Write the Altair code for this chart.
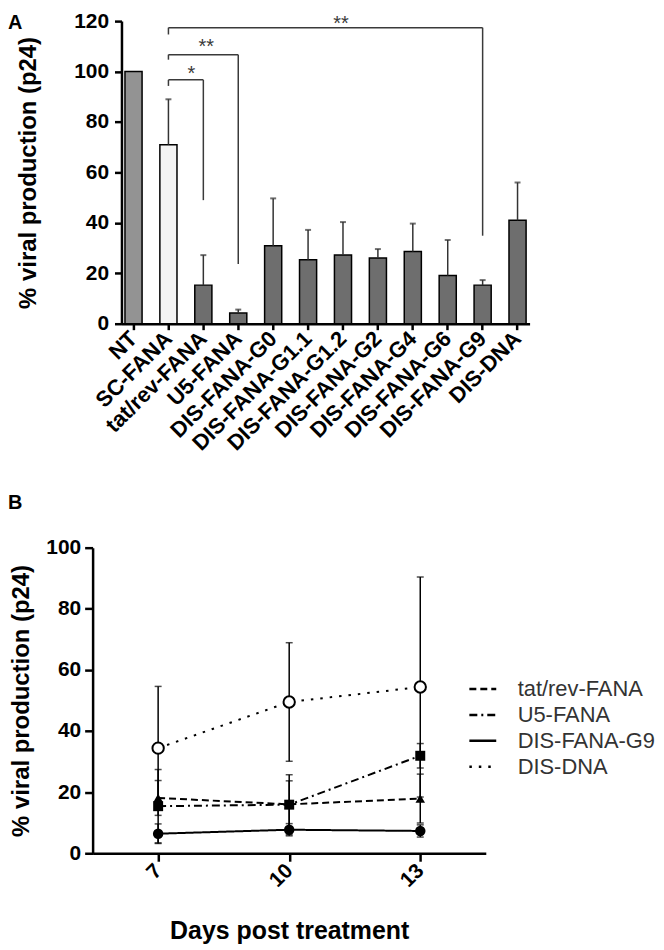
import altair as alt
import pandas as pd

# ---------------- Panel A data ----------------
categories = ["NT", "SC-FANA", "tat/rev-FANA", "U5-FANA", "DIS-FANA-G0", "DIS-FANA-G1.1",
              "DIS-FANA-G1.2", "DIS-FANA-G2", "DIS-FANA-G4", "DIS-FANA-G6", "DIS-FANA-G9", "DIS-DNA"]
means = [100, 71, 15.3, 4.2, 30.9, 25.4, 27.2, 26.1, 28.6, 19.1, 15.3, 41.0]
errors = [0, 18, 11.9, 1.4, 18.8, 11.8, 13.1, 3.5, 11.1, 14.1, 2.0, 15.0]

bracket_from = ["SC-FANA", "SC-FANA", "SC-FANA"]
bracket_to = ["tat/rev-FANA", "U5-FANA", "DIS-FANA-G9"]
bracket_level = [96.7, 106.7, 117.4]
bracket_left_end = [94.3, 104.7, 114.7]
bracket_right_end = [49.0, 23.7, 34.9]
bracket_label = ["*", "**", "**"]
star_cat = ["tat/rev-FANA", "tat/rev-FANA", "DIS-FANA-G1.2"]
star_level = [100.9, 111.8, 121.0]

# ---------------- Panel B data ----------------
days = [7, 10, 13]
series_names = ["tat/rev-FANA", "U5-FANA", "DIS-FANA-G9", "DIS-DNA"]
tat_mean = [18.1, 16.0, 17.9]
tat_err = [5.7, 7.7, 8.0]
u5_mean = [15.4, 15.9, 31.9]
u5_err = [12.0, 9.8, 4.0]
g9_mean = [6.4, 7.7, 7.3]
g9_err = [3.2, 2.0, 2.0]
dna_mean = [34.4, 49.5, 54.4]
dna_err = [20.2, 19.4, 36.0]

FONT = "Liberation Sans"

# ---------------- Panel A ----------------
dfA = pd.DataFrame({"cat": categories, "mean": means, "err": errors})
dfA["top"] = dfA["mean"] + dfA["err"]
dfErr = dfA[dfA["err"] > 0]

SHIFT = 29  # panel A axis sits further right than panel B's
band = alt.Scale(domain=categories, range=[SHIFT, SHIFT + 410], paddingInner=0.51, paddingOuter=0.1)


def xcat(field, axis=None):
    if axis is None:
        return alt.X(field, scale=band)
    return alt.X(field, scale=band, axis=axis)


xA = xcat("cat:N", alt.Axis(title=None, labelAngle=315, labelAlign="right", labelBaseline="middle",
                            labelFontSize=22, labelPadding=5, tickSize=6))
yA = alt.Y("mean:Q", scale=alt.Scale(domain=[0, 120], nice=False),
           axis=alt.Axis(values=[0, 20, 40, 60, 80, 100, 120], title="% viral production (p24)",
                         labelFontSize=21, labelPadding=6, tickSize=7, titlePadding=33,
                         offset=-SHIFT))

bars = alt.Chart(dfA).mark_bar(stroke="black", strokeWidth=1.5).encode(
    x=xA, y=yA,
    fill=alt.Fill("cat:N", legend=None,
                  scale=alt.Scale(domain=categories,
                                  range=["#939393", "#f4f4f4"] + ["#6e6e6e"] * 10)),
)
err_rule = alt.Chart(dfErr).mark_rule(color="#333333", strokeWidth=1.5).encode(
    x=xcat("cat:N"), y="mean:Q", y2="top:Q")
err_cap = alt.Chart(dfErr).mark_tick(color="#333333", thickness=2, size=6).encode(
    x=xcat("cat:N"), y="top:Q")

dfBr = pd.DataFrame({"from": bracket_from, "to": bracket_to, "level": bracket_level,
                     "left_end": bracket_left_end, "right_end": bracket_right_end})
br_h = alt.Chart(dfBr).mark_rule(color="#3a3a3a", strokeWidth=1.5).encode(
    x=xcat("from:N"), x2="to:N", y="level:Q")
br_l = alt.Chart(dfBr).mark_rule(color="#3a3a3a", strokeWidth=1.5).encode(
    x=xcat("from:N"), y="level:Q", y2="left_end:Q")
br_r = alt.Chart(dfBr).mark_rule(color="#3a3a3a", strokeWidth=1.5).encode(
    x=xcat("to:N"), y="level:Q", y2="right_end:Q")

star_dx = [-12, 3, -2]
star_layers = []
for i in range(len(bracket_label)):
    d = pd.DataFrame({"cat": [star_cat[i]], "lvl": [star_level[i]], "lab": [bracket_label[i]]})
    star_layers.append(
        alt.Chart(d).mark_text(font=FONT, fontSize=20, color="#3a3a3a", baseline="middle",
                               dx=star_dx[i], dy=5).encode(
            x=xcat("cat:N"), y="lvl:Q", text="lab:N"))

labA = alt.Chart(pd.DataFrame({"p": ["A"]})).mark_text(
    font=FONT, fontSize=20, fontWeight="bold", align="left", baseline="top", color="black").encode(
    x=alt.value(-85), y=alt.value(-8), text="p:N")

panelA = alt.layer(bars, err_rule, err_cap, br_h, br_l, br_r, *star_layers, labA).properties(
    width=SHIFT + 410, height=304)

# ---------------- Panel B ----------------
rows = []
for name, m, e in [("tat/rev-FANA", tat_mean, tat_err), ("U5-FANA", u5_mean, u5_err),
                   ("DIS-FANA-G9", g9_mean, g9_err), ("DIS-DNA", dna_mean, dna_err)]:
    for d, mv, ev in zip(days, m, e):
        rows.append({"series": name, "day": d, "mean": mv, "low": mv - ev, "high": mv + ev})
dfB = pd.DataFrame(rows)

xB = alt.X("day:Q", scale=alt.Scale(domain=[5.5, 14.5], nice=False, zero=False),
           axis=alt.Axis(values=days, title="Days post treatment", labelAngle=315,
                         labelAlign="right", labelBaseline="middle", labelFontSize=21,
                         labelPadding=6, tickSize=8, titlePadding=28, titleFontSize=25))
yB = alt.Y("mean:Q", scale=alt.Scale(domain=[0, 100], nice=False),
           axis=alt.Axis(values=[0, 20, 40, 60, 80, 100], title="% viral production (p24)",
                         labelFontSize=21, labelPadding=4, tickSize=8, titlePadding=12))

lines = alt.Chart(dfB).mark_line(color="black", strokeWidth=2).encode(
    x=xB, y=yB,
    strokeDash=alt.StrokeDash(
        "series:N", sort=series_names,
        scale=alt.Scale(domain=series_names, range=[[7, 4], [8, 4, 2, 4], [1, 0], [2.5, 7]]),
        legend=alt.Legend(title=None, orient="none", legendX=377, legendY=127,
                          symbolType="stroke", symbolStrokeColor="black", symbolStrokeWidth=2.5,
                          symbolSize=729, labelFontSize=22, labelFont=FONT, labelFontWeight="normal",
                          labelColor="#333333", rowPadding=0, labelOffset=20)),
)
errB = alt.Chart(dfB).mark_rule(color="black", strokeWidth=1.5).encode(
    x="day:Q", y="low:Q", y2="high:Q")
capHi = alt.Chart(dfB).mark_tick(color="black", thickness=1.5, size=7, orient="horizontal").encode(
    x="day:Q", y="high:Q")
capLo = alt.Chart(dfB).mark_tick(color="black", thickness=1.5, size=7, orient="horizontal").encode(
    x="day:Q", y="low:Q")
filled_names = ["tat/rev-FANA", "U5-FANA", "DIS-FANA-G9"]
pts = alt.Chart(dfB[dfB["series"].isin(filled_names)]).mark_point(
    filled=True, color="black", opacity=1).encode(
    x="day:Q", y="mean:Q",
    shape=alt.Shape("series:N", scale=alt.Scale(domain=filled_names,
                                                range=["triangle-up", "square", "circle"]), legend=None),
    size=alt.Size("series:N", scale=alt.Scale(domain=filled_names, range=[90, 110, 140]), legend=None),
)
open_pts = alt.Chart(dfB[dfB["series"] == "DIS-DNA"]).mark_point(
    shape="circle", filled=False, fill="white", fillOpacity=1, stroke="black", strokeWidth=2,
    size=130, opacity=1).encode(x="day:Q", y="mean:Q")

labB = alt.Chart(pd.DataFrame({"p": ["B"]})).mark_text(
    font=FONT, fontSize=20, fontWeight="bold", align="left", baseline="top", color="black").encode(
    x=alt.value(-85), y=alt.value(-55), text="p:N")

panelB = alt.layer(lines, errB, capHi, capLo, pts, open_pts, labB).properties(width=395, height=307)

chart = alt.concat(panelA, panelB, columns=1, align="none", spacing=38).resolve_legend(
    strokeDash="independent", fill="independent", shape="independent", size="independent"
).properties(
    padding={"left": 0, "top": 0, "right": 0, "bottom": 0}
).configure_view(stroke=None).configure_axis(
    domainColor="black", domainWidth=2.5, tickColor="black", tickWidth=2.5, grid=False,
    labelFont=FONT, labelFontWeight="bold", labelColor="black",
    titleFont=FONT, titleFontWeight="bold", titleColor="black", titleFontSize=24,
)

chart.save("out.html", embed_options={"renderer": "svg", "actions": False})
